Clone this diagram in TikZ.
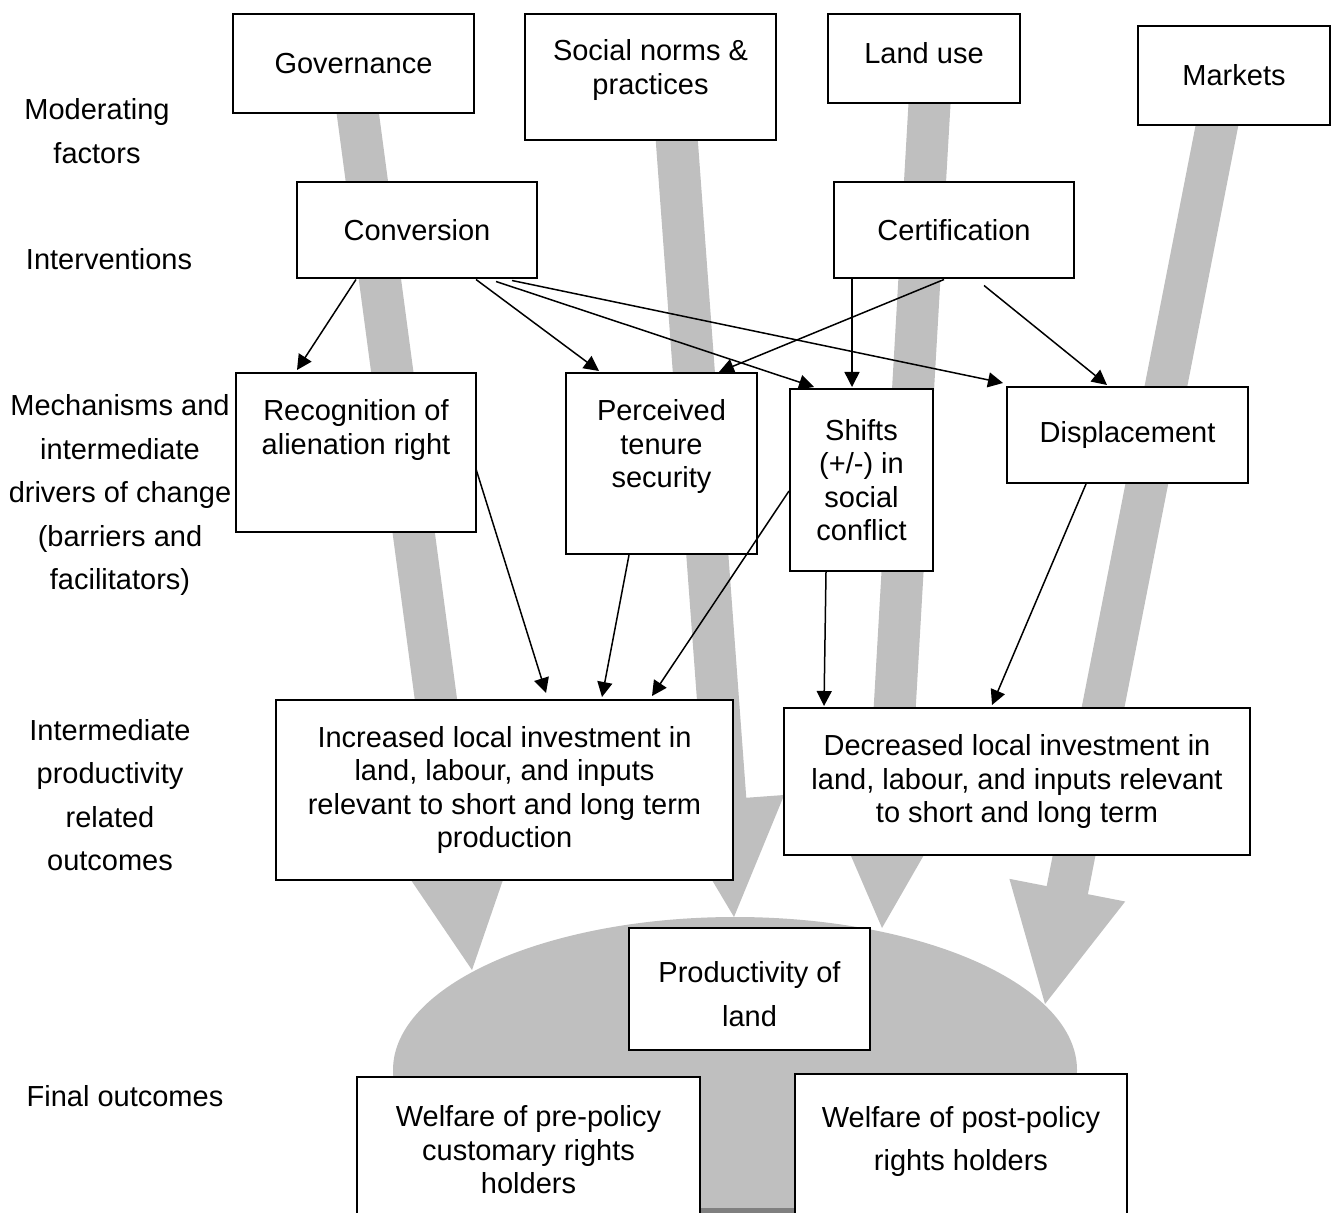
\documentclass[tikz,border=0pt]{standalone}
\usepackage{fontspec}
\setmainfont{Liberation Sans}
\usetikzlibrary{calc,arrows.meta}
\definecolor{flowgray}{RGB}{191,191,191}
\begin{document}
\begin{tikzpicture}[x=0.5pt,y=-0.5pt,
box/.style={draw,line width=1pt,fill=white,align=center,inner sep=0pt,font=\fontsize{14.5}{16.75}\selectfont},
txt/.style={align=center,inner sep=0pt,font=\fontsize{14.5}{16.75}\selectfont},
levellabel/.style={align=center,inner sep=0pt,font=\fontsize{14.5}{21.75}\selectfont},
conn/.style={-{Triangle[length=7.5pt,width=7.5pt]},line width=0.75pt}]
\useasboundingbox (0,0) rectangle (1332,1213);
\clip (0,0) rectangle (1332,1213);
\coordinate (govtop) at (356,100);
\coordinate (govtip) at (472,970);
\coordinate (soctop) at (676,130);
\coordinate (soctip) at (734,917);
\coordinate (landtop) at (930,95);
\coordinate (landtip) at (882,928);
\coordinate (mkttop) at (1219,115);
\coordinate (mkttip) at (1045,1004);
\coordinate (govbase) at ($(govtip)!59pt!(govtop)$);
\coordinate (socbase) at ($(soctip)!59pt!(soctop)$);
\coordinate (landbase) at ($(landtip)!59pt!(landtop)$);
\coordinate (mktbase) at ($(mkttip)!58pt!(mkttop)$);
\fill[flowgray] ($(govtop)!10.5pt!90:(govtip)$) -- ($(govbase)!10.5pt!-90:(govtop)$) -- ($(govbase)!29.5pt!-90:(govtop)$) -- (govtip) -- ($(govbase)!29.5pt!90:(govtop)$) -- ($(govbase)!10.5pt!90:(govtop)$) -- ($(govtop)!10.5pt!-90:(govtip)$) -- cycle;
\fill[flowgray] ($(soctop)!10.5pt!90:(soctip)$) -- ($(socbase)!10.5pt!-90:(soctop)$) -- ($(socbase)!29.5pt!-90:(soctop)$) -- (soctip) -- ($(socbase)!29.5pt!90:(soctop)$) -- ($(socbase)!10.5pt!90:(soctop)$) -- ($(soctop)!10.5pt!-90:(soctip)$) -- cycle;
\fill[flowgray] ($(landtop)!10.5pt!90:(landtip)$) -- ($(landbase)!10.5pt!-90:(landtop)$) -- ($(landbase)!29.5pt!-90:(landtop)$) -- (landtip) -- ($(landbase)!29.5pt!90:(landtop)$) -- ($(landbase)!10.5pt!90:(landtop)$) -- ($(landtop)!10.5pt!-90:(landtip)$) -- cycle;
\fill[flowgray] ($(mkttop)!10.5pt!90:(mkttip)$) -- ($(mktbase)!10.5pt!-90:(mkttop)$) -- ($(mktbase)!29.5pt!-90:(mkttop)$) -- (mkttip) -- ($(mktbase)!29.5pt!90:(mkttop)$) -- ($(mktbase)!10.5pt!90:(mkttop)$) -- ($(mkttop)!10.5pt!-90:(mkttip)$) -- cycle;
\fill[flowgray] (735,1070) ellipse [x radius=171pt, y radius=76.5pt];
\fill[flowgray] (700,1060) rectangle (795,1209);
\fill[gray] (700,1208) rectangle (795,1213);
\node[levellabel] (lmod) at (97,131) {Moderating\\factors};
\node[levellabel] (lint) at (109,259) {Interventions};
\node[levellabel] (lmech) at (120,495) {Mechanisms and\\intermediate\\drivers of change\\(barriers and\\facilitators)};
\node[levellabel] (lprod) at (110,795) {Intermediate\\productivity\\related\\outcomes};
\node[levellabel] (lfin) at (125,1096) {Final outcomes};
\node[box,minimum width=120.5pt,minimum height=49.5pt] (gov) at (353.5,63.5) {Governance};
\node[box,minimum width=125.5pt,minimum height=63pt] (soc) at (650.5,77) {};
\node[txt] (soctxt) at (650.5,70) {Social norms \&\\practices};
\node[box,minimum width=96pt,minimum height=44.5pt] (land) at (924,58.5) {};
\node[txt] (landtxt) at (924,53) {Land use};
\node[box,minimum width=96pt,minimum height=49.5pt] (mkt) at (1234,75.5) {Markets};
\node[box,minimum width=120pt,minimum height=48pt] (conv) at (417,230.5) {Conversion};
\node[box,minimum width=120pt,minimum height=48pt] (cert) at (954,230.5) {Certification};
\node[box,minimum width=120pt,minimum height=79.5pt] (recog) at (356,452.5) {};
\node[txt] (recogtxt) at (356,430) {Recognition of\\alienation right};
\node[box,minimum width=95.5pt,minimum height=90.5pt] (perc) at (661.5,463.5) {};
\node[txt] (perctxt) at (661.5,447) {Perceived\\tenure\\security};
\node[box,minimum width=71.5pt,minimum height=91pt] (shift) at (861.5,480) {Shifts\\(+/-) in\\social\\conflict};
\node[box,minimum width=120.5pt,minimum height=48pt] (disp) at (1127.5,435) {Displacement};
\node[box,minimum width=228.5pt,minimum height=90pt] (incr) at (504.5,790) {Increased local investment in\\land, labour, and inputs\\relevant to short and long term\\production};
\node[box,minimum width=233pt,minimum height=73.5pt] (decr) at (1017,781.5) {Decreased local investment in\\land, labour, and inputs relevant\\to short and long term};
\node[box,minimum width=120.5pt,minimum height=61pt] (prod) at (749.5,989) {};
\node[txt] (prodtxt) at (749.5,994) {Productivity of\\[5.25pt]land};
\node[box,minimum width=171.5pt,minimum height=81.5pt] (wpre) at (528.5,1158.5) {};
\node[txt] (wpretxt) at (528.5,1150) {Welfare of pre-policy\\customary rights\\holders};
\node[box,minimum width=166pt,minimum height=83pt] (wpost) at (961,1157) {};
\node[txt] (wposttxt) at (961,1141.5) {Welfare of post-policy\\[5pt]rights holders};
\draw[conn] ($(conv.south west)+(60,0)$) -- ($(recog.north west)+(62,-2)$);
\draw[conn] ($(conv.south west)+(180,0)$) -- ($(perc.north west)+(34,-1)$);
\draw[conn] ($(conv.south west)+(200,2)$) -- ($(shift.north west)+(25,-1)$);
\draw[conn] ($(conv.south west)+(216,1)$) -- ($(disp.north west)+(-3,-3)$);
\draw[conn] ($(cert.south west)+(19,0)$) -- ($(shift.north west)+(63,-1)$);
\draw[conn] ($(cert.south west)+(111,0)$) -- ($(perc.north west)+(154,0)$);
\draw[conn] ($(cert.south west)+(151,6)$) -- ($(disp.north west)+(101,-1)$);
\draw[conn] ($(recog.north east)+(-1,97)$) -- ($(incr.north west)+(271,-6)$);
\draw[conn] ($(perc.south west)+(64,0)$) -- ($(incr.north west)+(327,-2)$);
\draw[conn] ($(shift.north west)+(0,103)$) -- ($(incr.north west)+(377,-3)$);
\draw[conn] ($(shift.south west)+(37,0)$) -- ($(decr.north west)+(41,-1)$);
\draw[conn] ($(disp.south west)+(80,0)$) -- ($(decr.north west)+(209,-2)$);
\end{tikzpicture}
\end{document}
